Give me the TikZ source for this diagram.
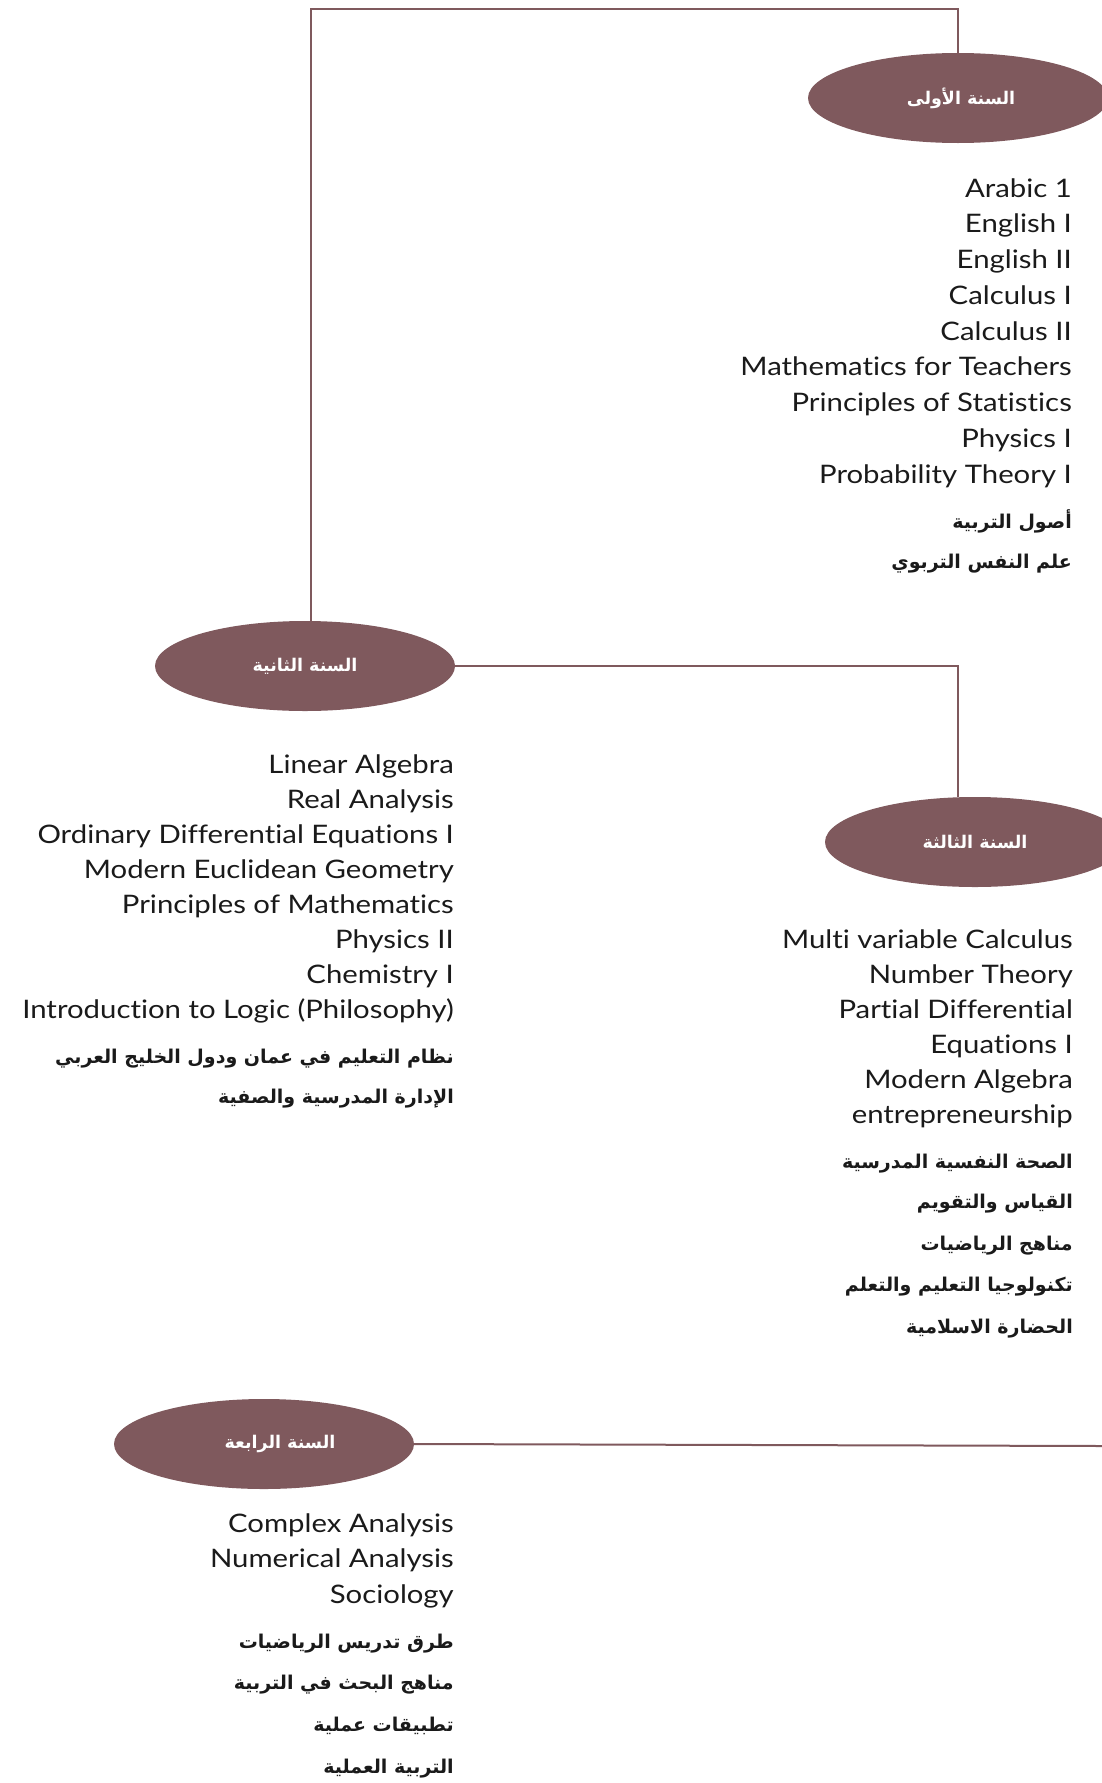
\documentclass[tikz,border=0pt]{standalone}
\usepackage{fontspec}
\setmainfont{Lato}[FakeStretch=1.15,Ligatures=CommonOff]
\newfontfamily\arabicfont[Script=Arabic]{DejaVu Sans}
\TeXXeTstate=1
\usetikzlibrary{shapes.geometric}
\definecolor{mauve}{HTML}{7F595D}
\definecolor{ink}{HTML}{1A1A1A}
\tikzset{
 yearbox/.style={ellipse, fill=mauve, draw=none, minimum width=300pt, minimum height=90pt, inner sep=0pt, text=white, font=\arabicfont\bfseries\fontsize{17.5}{19}\selectfont},
 course/.style={anchor=base east, inner sep=0pt, text=ink, font=\fontsize{25.5}{30}\selectfont},
 arcourse/.style={anchor=base east, inner sep=0pt, text=ink, font=\arabicfont\bfseries\fontsize{19}{21}\selectfont},
 link/.style={draw=mauve, line width=2pt}
}
\begin{document}
\begin{tikzpicture}[x=1pt,y=-1pt]
\useasboundingbox (0,0) rectangle (1102,1783);
\clip (0,0) rectangle (1102,1783);
% year ellipses
\node[yearbox] (e1) at (958,98) {\hspace*{6pt}\raisebox{0pt}{\beginR السنة الأولى\endR}};
\node[yearbox] (e2) at (305,666) {\beginR السنة الثانية\endR};
\node[yearbox] (e3) at (975,842) {\beginR السنة الثالثة\endR};
\node[yearbox] (e4) at (264,1444) {\hspace*{32pt}\beginR السنة الرابعة\endR};
% connectors
\coordinate (c1) at (311,9);
\coordinate (c2) at (958,666);
\coordinate (c3) at (1102,1446);
\draw[link] (e1.north) |- (c1) -- (c1 |- e2.north);
\draw[link] (e2.east) -- (c2) -- (c2 |- e3.north);
\draw[link] (e4.east) -- (c3);
% year 1
\node[course] (a1) at (1072,197) {Arabic 1};
\node[course] (a2) at (1072,232.75) {English I};
\node[course] (a3) at (1072,268.5) {English II};
\node[course] (a4) at (1072,304.25) {Calculus I};
\node[course] (a5) at (1072,340) {Calculus II};
\node[course] (a6) at (1072,375.75) {Mathematics for Teachers};
\node[course] (a7) at (1072,411.5) {Principles of Statistics};
\node[course] (a8) at (1072,447.25) {Physics I};
\node[course] (a9) at (1072,483) {Probability Theory I};
\node[arcourse] (a10) at (1072,528) {\beginR أصول التربية\endR};
\node[arcourse] (a11) at (1072,568) {\beginR علم النفس التربوي\endR};
% year 2
\node[course] (b1) at (454,773) {Linear Algebra};
\node[course] (b2) at (454,808) {Real Analysis};
\node[course] (b3) at (454,843) {Ordinary Differential Equations I};
\node[course] (b4) at (454,878) {Modern Euclidean Geometry};
\node[course] (b5) at (454,913) {Principles of Mathematics};
\node[course] (b6) at (454,948) {Physics II};
\node[course] (b7) at (454,983) {Chemistry I};
\node[course] (b8) at (454,1018) {Introduction to Logic (Philosophy)};
\node[arcourse] (b9) at (454,1063) {\beginR نظام التعليم في عمان ودول الخليج العربي\endR};
\node[arcourse] (b10) at (454,1103) {\beginR الإدارة المدرسية والصفية\endR};
% year 3
\node[course] (c3a) at (1073,948) {Multi variable Calculus};
\node[course] (c3b) at (1073,983) {Number Theory};
\node[course] (c3c) at (1073,1018) {Partial Differential};
\node[course] (c3d) at (1073,1053) {Equations I};
\node[course] (c3e) at (1073,1088) {Modern Algebra};
\node[course] (c3f) at (1073,1123) {entrepreneurship};
\node[arcourse] (c3g) at (1073,1168) {\beginR الصحة النفسية المدرسية\endR};
\node[arcourse] (c3h) at (1073,1208) {\beginR القياس والتقويم\endR};
\node[arcourse] (c3i) at (1073,1250) {\beginR مناهج الرياضيات\endR};
\node[arcourse] (c3j) at (1073,1291) {\beginR تكنولوجيا التعليم والتعلم\endR};
\node[arcourse] (c3k) at (1073,1333) {\beginR الحضارة الاسلامية\endR};
% year 4
\node[course] (d1) at (454,1532) {Complex Analysis};
\node[course] (d2) at (454,1567) {Numerical Analysis};
\node[course] (d3) at (454,1603) {Sociology};
\node[arcourse] (d4) at (454,1648) {\beginR طرق تدريس الرياضيات\endR};
\node[arcourse] (d5) at (454,1689) {\beginR مناهج البحث في التربية\endR};
\node[arcourse] (d6) at (454,1731) {\beginR تطبيقات عملية\endR};
\node[arcourse] (d7) at (454,1773) {\beginR التربية العملية\endR};
\end{tikzpicture}
\end{document}
